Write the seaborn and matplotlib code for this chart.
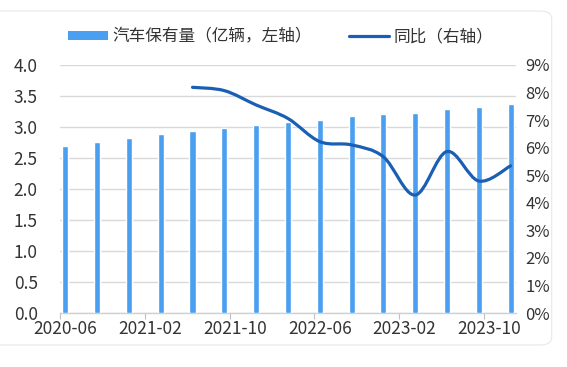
import numpy as np
import pandas as pd
import matplotlib
matplotlib.use("Agg")
import matplotlib.pyplot as plt
import seaborn as sns
from matplotlib.path import Path
from matplotlib.patches import PathPatch, Patch, FancyBboxPatch
from matplotlib.lines import Line2D

# dane kwartalne
dates = ["2020-06", "2020-09", "2020-12", "2021-03", "2021-06", "2021-09", "2021-12",
         "2022-03", "2022-06", "2022-09", "2022-12", "2023-03", "2023-06", "2023-09", "2023-12"]
stock = [2.70, 2.76, 2.82, 2.88, 2.93, 2.98, 3.03, 3.08, 3.12, 3.17, 3.21, 3.22, 3.29, 3.32, 3.37]
yoy = [np.nan, np.nan, np.nan, np.nan, 8.19, 8.07, 7.55, 7.06, 6.22, 6.10, 5.67, 4.28, 5.86, 4.79, 5.34]
tick_labels = ["2020-06", "2021-02", "2021-10", "2022-06", "2023-02", "2023-10"]

bar_label = "汽车保有量（亿辆，左轴）"
line_label = "同比（右轴）"

bar_color = "#4a9ff0"
line_color = "#1a5fb4"
text_color = "#333333"
grid_color = "#d9d9d9"

sns.set_theme(style="white")
plt.rcParams["font.family"] = ["Noto Sans CJK SC", "DejaVu Sans"]

start = pd.Period(dates[0], freq="M")
def month_pos(s):
    return (pd.Period(s, freq="M") - start).n + 0.5

xs = np.array([month_pos(d) for d in dates])
df = pd.DataFrame({"x": xs, "stock": stock, "yoy": yoy})

fig = plt.figure(figsize=(5.67, 3.67), dpi=100)
fig.patch.set_facecolor("white")
# ramka karty
fig.patches.append(FancyBboxPatch((-0.05, 0.06), 1.023, 0.91, boxstyle="round,pad=0,rounding_size=0.02",
                                  transform=fig.transFigure, facecolor="none",
                                  edgecolor="#e8e8e8", linewidth=0.8, zorder=0))
ax = fig.add_axes([0.1058, 0.1471, 0.804, 0.6758])
ax2 = ax.twinx()

sns.barplot(data=df, x="x", y="stock", native_scale=True, width=0.19, color=bar_color,
            saturation=1, ax=ax, zorder=3)
ax.set_xlim(0, 43)
ax.set_ylim(0, 4.0)
ax.set_yticks(np.arange(0, 4.01, 0.5))
ax.set_yticklabels([f"{v:.1f}" for v in np.arange(0, 4.01, 0.5)])
ax.yaxis.grid(True, color=grid_color, linewidth=1)
ax.set_axisbelow(True)
ax.set_xlabel("")
ax.set_ylabel("")

# wygładzona linia (Bezier przez punkty)
line = df.dropna()
px, py = line["x"].to_numpy(), line["yoy"].to_numpy()
verts = [(px[0], py[0])]
codes = [Path.MOVETO]
for i in range(len(px) - 1):
    p0 = (px[max(i - 1, 0)], py[max(i - 1, 0)])
    p1 = (px[i], py[i])
    p2 = (px[i + 1], py[i + 1])
    p3 = (px[min(i + 2, len(px) - 1)], py[min(i + 2, len(px) - 1)])
    c1 = (p1[0] + (p2[0] - p0[0]) / 6, p1[1] + (p2[1] - p0[1]) / 6)
    c2 = (p2[0] - (p3[0] - p1[0]) / 6, p2[1] - (p3[1] - p1[1]) / 6)
    verts += [c1, c2, p2]
    codes += [Path.CURVE4] * 3
ax2.add_patch(PathPatch(Path(verts, codes), facecolor="none", edgecolor=line_color,
                        linewidth=2.3, capstyle="round", zorder=4))
ax2.set_ylim(0, 9)
ax2.set_yticks(range(0, 10))
ax2.set_yticklabels([f"{v}%" for v in range(0, 10)])
ax2.grid(False)

# os x: etykiety co 8 miesiecy
tick_pos = [month_pos(t) for t in tick_labels]
ax.set_xticks(tick_pos)
ax.set_xticklabels(tick_labels)
ax.set_xticks([p - 0.5 for p in tick_pos], minor=True)
ax.tick_params(axis="x", which="major", length=0, pad=5, labelsize=12.5, colors=text_color)
ax.tick_params(axis="x", which="minor", length=4, width=0.8, color="#bfbfbf", bottom=True)
ax.tick_params(axis="y", length=0, pad=16, labelsize=12.5, colors=text_color)
ax2.tick_params(axis="y", length=0, pad=7, labelsize=12, colors=text_color)

for a in (ax, ax2):
    for s in a.spines.values():
        s.set_visible(False)
ax.spines["bottom"].set_visible(True)
ax.spines["bottom"].set_color("#d0d0d0")
ax.spines["bottom"].set_linewidth(1)

handles = [Patch(facecolor=bar_color, edgecolor="none", label=bar_label),
           Line2D([], [], color=line_color, linewidth=2.3, label=line_label)]
fig.legend(handles=handles, loc="center", bbox_to_anchor=(0.495, 0.9), ncol=2, frameon=False,
           fontsize=12, handlelength=2.4, handleheight=0.5, columnspacing=2.2, handletextpad=0.3,
           labelcolor=text_color)

fig.savefig("out.png", dpi=100)
